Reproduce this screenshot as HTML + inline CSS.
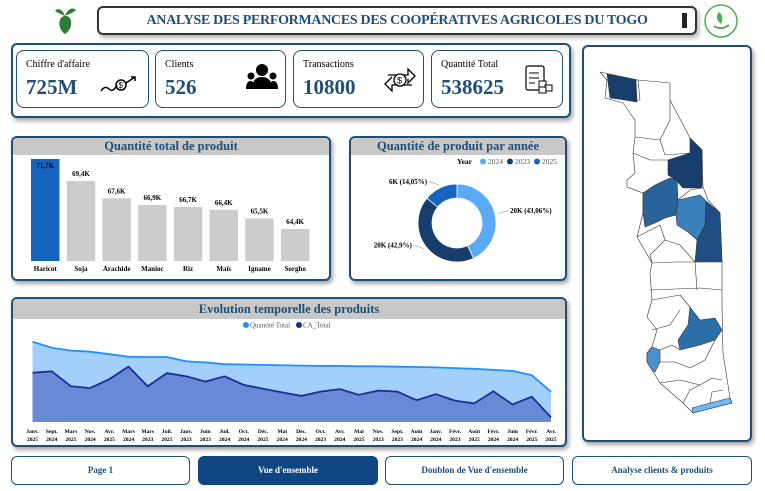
<!DOCTYPE html>
<html><head><meta charset="utf-8">
<style>
*{box-sizing:border-box;margin:0;padding:0}
body{width:765px;height:491px;background:#fff;font-family:"Liberation Serif",serif;position:relative;overflow:hidden}
.abs{position:absolute}
.card{position:absolute;border:2px solid #1f4e79;border-radius:6px;background:#fff;box-shadow:2px 3px 4px rgba(0,0,0,.35)}
.kpi{position:absolute;border:1.5px solid #1f4e79;border-radius:8px;background:#fff;top:50px;height:58px}
.kpi .lb{position:absolute;left:9px;top:8px;font-size:10px;color:#000}
.kpi .v{position:absolute;left:9px;top:24px;font-size:21px;font-weight:bold;color:#1f4e79}
.hdr{position:absolute;left:0;right:0;top:0;height:17px;background:#c8c8c8;color:#1f4e79;font-weight:bold;font-size:12.5px;text-align:center;line-height:17px;border-radius:4px 4px 0 0}
.btn{position:absolute;top:456px;height:29px;border:1.5px solid #1f4e79;border-radius:6px;font-size:9px;font-weight:bold;color:#1f4e79;text-align:center;line-height:27px;background:#fff}
</style></head><body>

<svg class="abs" style="left:52px;top:4px" width="26" height="34">
<path d="M13 30 C7 26 6 18 9 14 C13 10 18 12 19 17 C20 23 17 27 13 30Z" fill="#2e7d32"/>
<path d="M13 12 C10 4 5 4 3 7 C6 9 9 10 13 12Z M13 12 C16 4 21 3 24 6 C21 9 17 10 13 12Z" fill="#2e7d32"/>
</svg>

<div class="abs" style="left:97px;top:6px;width:600px;height:29px;border:2px solid #333;border-radius:6px;box-shadow:2px 3px 4px rgba(0,0,0,.3);text-align:center;line-height:25px;font-size:14px;font-weight:bold;color:#1f4e79;letter-spacing:-0.3px">ANALYSE DES PERFORMANCES DES COOPÉRATIVES AGRICOLES DU TOGO
<div class="abs" style="right:8px;top:5px;width:5px;height:15px;background:#222"></div></div>

<svg class="abs" style="left:704px;top:4px" width="34" height="34">
<circle cx="17" cy="17" r="16" fill="#fff" stroke="#4caf50" stroke-width="1.5"/>
<path d="M10 22 C14 25 20 25 25 21" stroke="#4caf50" stroke-width="2" fill="none"/>
<path d="M17 20 C12 16 12 11 15 8 C19 11 19 16 17 20Z" fill="#4caf50"/>
</svg>

<div class="card" style="left:11px;top:43px;width:560px;height:75px;border-radius:6px"></div>
<div class="kpi" style="left:16px;width:133px"><div class="lb">Chiffre d'affaire</div><div class="v">725M</div>
<svg class="abs" style="left:82px;top:22px" width="40" height="22"><path d="M2 18 Q6 12 10 16 T18 12" stroke="#000" fill="none" stroke-width="1.5"/><circle cx="22" cy="12" r="5" fill="none" stroke="#000" stroke-width="1.5"/><text x="19.5" y="15" font-size="8" font-family="Liberation Sans">$</text><path d="M27 10 L36 4 M32 4 L36 4 L36 8" stroke="#000" fill="none" stroke-width="1.5"/></svg></div>
<div class="kpi" style="left:155px;width:131px"><div class="lb">Clients</div><div class="v">526</div>
<svg class="abs" style="left:90px;top:12px" width="32" height="28"><circle cx="16" cy="7" r="6" fill="#000"/><path d="M6 26 Q6 14 16 14 Q26 14 26 26Z" fill="#000"/><circle cx="5" cy="13" r="3.5" fill="#000"/><circle cx="27" cy="13" r="3.5" fill="#000"/><path d="M0 26 Q0 18 5 18 Q8 18 8 26Z M24 26 Q24 18 27 18 Q32 18 32 26Z" fill="#000"/></svg></div>
<div class="kpi" style="left:293px;width:131px"><div class="lb">Transactions</div><div class="v">10800</div>
<svg class="abs" style="left:90px;top:12px" width="32" height="32"><path d="M4 12 L24 12 L24 6 L31 13 L24 20 L24 16" stroke="#000" fill="none" stroke-width="1.3"/><path d="M28 22 L8 22 L8 28 L1 21 L8 14" stroke="#000" fill="none" stroke-width="1.3"/><circle cx="16" cy="17" r="6" fill="#fff" stroke="#000" stroke-width="1.3"/><text x="13" y="20.5" font-size="9" font-family="Liberation Sans">$</text></svg></div>
<div class="kpi" style="left:431px;width:132px"><div class="lb">Quantité Total</div><div class="v">538625</div>
<svg class="abs" style="left:92px;top:12px" width="30" height="32"><rect x="2" y="3" width="18" height="24" rx="2" fill="none" stroke="#000" stroke-width="1.2"/><path d="M5 10h10M5 15h10M5 20h6" stroke="#000"/><rect x="15" y="18" width="7" height="6" fill="#fff" stroke="#000"/><rect x="21" y="22" width="7" height="6" fill="#fff" stroke="#000"/><rect x="15" y="24" width="7" height="6" fill="#fff" stroke="#000"/></svg></div>

<div class="card" style="left:11px;top:136px;width:320px;height:145px"><div class="hdr">Quantité total de produit</div></div>
<svg id="bar" class="abs" style="left:11px;top:136px" width="320" height="145"></svg>

<div class="card" style="left:349px;top:136px;width:218px;height:145px"><div class="hdr">Quantité de produit par année</div></div>
<svg id="donut" class="abs" style="left:349px;top:136px" width="218" height="145"></svg>

<div class="card" style="left:11px;top:297px;width:556px;height:150px"><div class="hdr" style="height:20px;line-height:20px">Evolution temporelle des produits</div></div>
<svg id="line" class="abs" style="left:0;top:0" width="765" height="491"></svg>

<div class="card" style="left:582px;top:45px;width:170px;height:397px"></div>
<svg class="abs" style="left:0;top:0" width="765" height="491">
<g stroke="#333" stroke-width="0.6" stroke-linejoin="round">
<polygon fill="#fff" points="600,72 638,80 670,83 670,100 690,138 702,150 703,187 708,200 720,213 722,262 722,307 723,353 730,398 732,403 693,413 683,403 660,383 652,370 647,362 647,353 652,347 657,330 647,317 652,300 650,273 652,263 637,237 643,213 643,193 627,187 627,180 635,173 633,153 635,137 635,120 623,103 605,98 607,80"/>
<polygon fill="#163d6b" points="607,74 636,80 637,102 625,100 610,98"/>
<polygon fill="#163d6b" points="668,160 690,153 690,138 702,150 702,188 683,188 676,180 668,175"/>
<polygon fill="#2a6399" points="643,193 655,185 670,178 677,180 678,200 676,215 665,218 655,223 645,227 643,213"/>
<polygon fill="#3980bd" points="678,200 700,195 706,201 705,225 697,240 688,232 677,225 676,215"/>
<polygon fill="#1f4f82" points="706,201 720,213 722,262 695,262 697,240 705,225"/>
<polygon fill="#2c6ea6" points="690,307 700,320 715,318 722,330 715,340 700,345 680,350 678,340 688,325"/>
<polygon fill="#4a90d0" points="647,353 652,347 660,350 660,362 655,372 652,370 647,362"/>
<polygon fill="#6bb8f5" points="692,408 710,403 730,398 732,403 693,413"/>
<polyline fill="none" points="635,137 660,140 670,120 670,100"/>
<polyline fill="none" points="660,140 665,155 690,153"/>
<polyline fill="none" points="633,153 650,160 668,160"/>
<polyline fill="none" points="638,80 640,100 625,100"/>
<polyline fill="none" points="678,200 690,190 702,188"/>
<polyline fill="none" points="637,237 660,225 665,240 650,255 652,263"/>
<polyline fill="none" points="665,240 680,245 695,262"/>
<polyline fill="none" points="652,263 675,262 695,262"/>
<polyline fill="none" points="650,290 700,288 722,290"/>
<polyline fill="none" points="695,262 697,290"/>
<polyline fill="none" points="652,300 680,295 690,307"/>
<polyline fill="none" points="652,330 670,325 680,310"/>
<polyline fill="none" points="660,350 672,345 680,350"/>
<polyline fill="none" points="660,362 675,362 690,368 705,360 715,340"/>
<polyline fill="none" points="660,383 680,380 700,385 712,378 722,380"/>
<polyline fill="none" points="683,403 690,390 700,385"/>
<polyline fill="none" points="710,403 712,392 723,390"/>
</g></svg>

<div class="btn" style="left:11px;width:179px">Page 1</div>
<div class="btn" style="left:198px;width:180px;background:#0d4680;color:#fff;border-color:#0d4680">Vue d'ensemble</div>
<div class="btn" style="left:385px;width:179px">Doublon de Vue d'ensemble</div>
<div class="btn" style="left:572px;width:180px">Analyse clients &amp; produits</div>

<script>
const NS='http://www.w3.org/2000/svg';
function mk(p,t,a){const e=document.createElementNS(NS,t);for(const k in a)e.setAttribute(k,a[k]);p.appendChild(e);return e;}

const barCats=['Haricot','Soja','Arachide','Manioc','Riz','Maïs','Igname','Sorgho'];
const barVals=[71.7,69.4,67.6,66.9,66.7,66.4,65.5,64.4];
const barLabels=['71,7K','69,4K','67,6K','66,9K','66,7K','66,4K','65,5K','64,4K'];
const bs=document.getElementById('bar');
const yMin=61.06,yBase=125,kY=9.59;
const by=v=>yBase-(v-yMin)*kY;
const bx=i=>20+i*35.7;
barCats.forEach((c,i)=>{
  const r=mk(bs,'rect',{x:bx(i),y:by(barVals[i]),width:28.5,height:yBase-by(barVals[i]),fill:i===0?'#1565c0':'#cccccc'});
  
  
  const ty=i===0?by(barVals[i])+9:by(barVals[i])-5;
  const t=mk(bs,'text',{x:bx(i)+14.25,y:ty,'text-anchor':'middle','font-size':'7','font-weight':'bold'});t.textContent=barLabels[i];
  
  
  const l=mk(bs,'text',{x:bx(i)+14.25,y:135,'text-anchor':'middle','font-size':'7','font-weight':'bold'});l.textContent=c;
  
  
});

const years=['2024','2023','2025'];
const yearPct=[43.06,42.9,14.05];
const yearLabels=['20K (43,06%)','20K (42,9%)','6K (14,05%)'];
const yearColors=['#5aaaf8','#163d6b','#1565c0'];
const ds=document.getElementById('donut');
const cx=108,cy=87,R=39,r0=25;
let lt=mk(ds,'text',{x:108,y:28,'font-size':'7.5','font-weight':'bold'});lt.textContent='Year';
years.forEach((y,i)=>{const c=mk(ds,'circle',{cx:134+i*27,cy:25.5,r:3,fill:yearColors[i]});

const t=mk(ds,'text',{x:139+i*27,y:28,'font-size':'7.5',fill:'#555'});t.textContent=y;
});
const tot=yearPct.reduce((a,b)=>a+b,0);let ang=-Math.PI/2;
yearPct.forEach((p,i)=>{
  const a2=ang+p/tot*2*Math.PI,lg=(a2-ang)>Math.PI?1:0;
  const P=(rr,a)=>[cx+rr*Math.cos(a),cy+rr*Math.sin(a)];
  const [x1,y1]=P(R,ang),[x2,y2]=P(R,a2),[x3,y3]=P(r0,a2),[x4,y4]=P(r0,ang);
  const s=mk(ds,'path',{d:`M${x1} ${y1}A${R} ${R} 0 ${lg} 1 ${x2} ${y2}L${x3} ${y3}A${r0} ${r0} 0 ${lg} 0 ${x4} ${y4}Z`,fill:yearColors[i],stroke:'#fff','stroke-width':'0.8'});
  
  
  const m=(ang+a2)/2,[ex,ey]=P(R+3,m),right=Math.cos(m)>0;
  const lx=right?ex+8:ex-8;
  mk(ds,'polyline',{points:`${ex},${ey} ${lx},${ey-3} ${lx+(right?3:-3)},${ey-3}`,fill:'none',stroke:'#aaa','stroke-width':'0.7'});
  const t=mk(ds,'text',{x:lx+(right?4:-4),y:ey-1,'text-anchor':right?'start':'end','font-size':'7','font-weight':'bold'});t.textContent=yearLabels[i];
  
  
  ang=a2;
});

const months=['Janv.|2025','Sept.|2024','Mars|2025','Nov.|2024','Avr.|2025','Mars|2024','Mars|2023','Juil.|2025','Janv.|2023','Juin|2023','Juil.|2024','Oct.|2024','Déc.|2025','Mai|2024','Déc.|2024','Oct.|2023','Avr.|2024','Mai|2025','Nov.|2023','Sept.|2023','Août|2024','Janv.|2024','Févr.|2023','Août|2025','Févr.|2024','Juin|2024','Févr.|2025','Avr.|2025'];
const qtyVals=[225,208,200,197,190,183,182,182,170,167,162,161,160,159,158,157,157,156,156,155,154,153,151,149,146,143,131,85];
const caVals=[138,142,100,95,120,155,100,137,128,113,128,104,93,83,73,85,92,76,88,85,61,78,60,52,86,49,71,13];
const ls=document.getElementById('line');
const x0=32.5,x1=551,base=422,kL=0.357;
const lx=i=>x0+i*(x1-x0)/(months.length-1);
const ly=v=>base-v*kL;
function area(vals,fill,stroke,name){
  let pts=vals.map((v,i)=>lx(i)+','+ly(v)).join(' ');
  const a=mk(ls,'polygon',{points:`${lx(0)},${base} ${pts} ${lx(vals.length-1)},${base}`,fill:fill});
  
  const l=mk(ls,'polyline',{points:pts,fill:'none',stroke:stroke,'stroke-width':'1.8'});
  
}
area(qtyVals,'#a3d0fb','#1e90ff','quantite-total');
area(caVals,'#6889d6','#1a2e96','ca-total');
[['Quantité Total','#1e90ff',246],['CA_Total','#1a2e96',299]].forEach(([n,c,x])=>{
  const d=mk(ls,'circle',{cx:x,cy:325,r:3,fill:c});
  const t=mk(ls,'text',{x:x+4,y:327.5,'font-size':'7',fill:'#555'});t.textContent=n;
  
});
months.forEach((m,i)=>{const [a,b]=m.split('|');
  const t=mk(ls,'text',{x:lx(i),y:433,'text-anchor':'middle','font-size':'5.6','font-weight':'bold'});t.textContent=a;
  
  const t2=mk(ls,'text',{x:lx(i),y:441,'text-anchor':'middle','font-size':'5.6','font-weight':'bold'});t2.textContent=b;
  
});
</script>
</body></html>
